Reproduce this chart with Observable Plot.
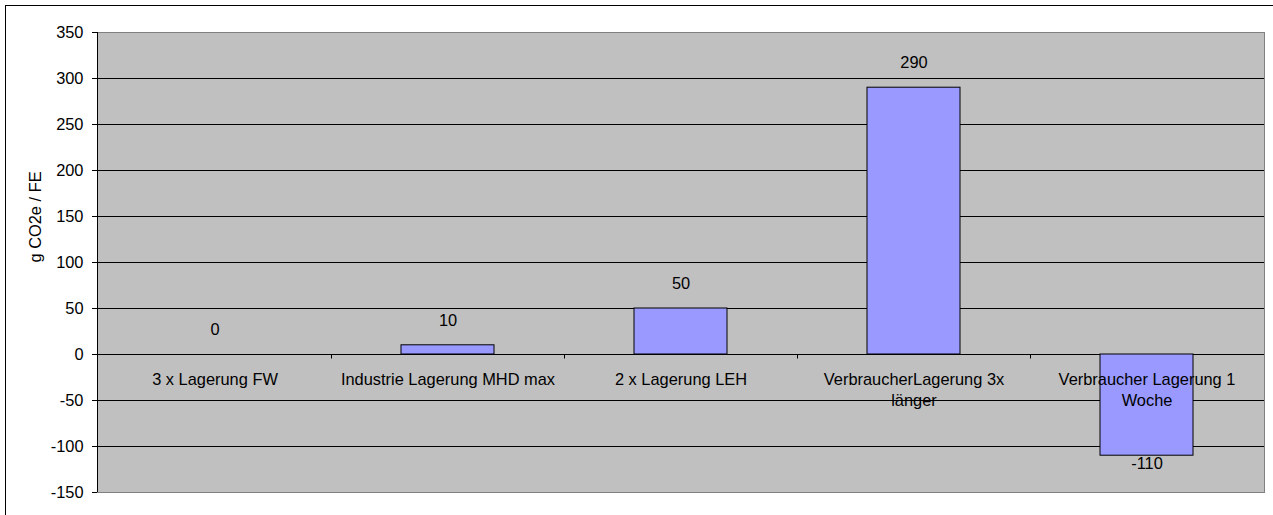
<!DOCTYPE html>
<html><head><meta charset="utf-8">
<script src="https://cdn.jsdelivr.net/npm/d3@7"></script>
<script src="https://cdn.jsdelivr.net/npm/@observablehq/plot@0.6"></script>
<style>
body{margin:0;background:#fff;font-family:"Liberation Sans",Arial,sans-serif;}
#wrap{position:relative;width:1273px;height:515px;overflow:hidden;background:#fff;}
#chart{position:absolute;left:0;top:0;}
#border{position:absolute;left:5px;top:5px;width:1300px;height:540px;border:1px solid #000;pointer-events:none;}
</style></head><body>
<div id="wrap"><div id="chart"></div><div id="border"></div></div>
<script>
const categories = ["3 x Lagerung FW", "Industrie Lagerung MHD max", "2 x Lagerung LEH", "VerbraucherLagerung 3x\nlänger", "Verbraucher Lagerung 1\nWoche"];
const values = [0, 10, 50, 290, -110];
const yTicks = [-150, -100, -50, 0, 50, 100, 150, 200, 250, 300, 350];
const yTitle = "g CO2e / FE";

const data = categories.map((c, i) => ({category: c, value: values[i]}));
const yMin = yTicks[0], yMax = yTicks[yTicks.length - 1];
const PAD_IN = 0.6, PAD_OUT = 0.3;
const FS = 16.4;

const axisExtras = (index, scales, vals, dims) => {
  const x = scales.x, y = scales.y;
  const step = x(categories[1]) - x(categories[0]);
  const g = d3.create("svg:g");
  const y0 = Math.round(y(0)) + 0.5;
  for (let i = 1; i < categories.length; i++) {
    const bx = Math.round(x(categories[i]) - PAD_OUT * step) + 0.5;
    g.append("line").attr("x1", bx).attr("x2", bx).attr("y1", y0).attr("y2", y0 + 4)
      .attr("stroke", "#000");
  }
  const lx = dims.marginLeft + 0.5;
  g.append("line").attr("x1", lx).attr("x2", lx)
    .attr("y1", y(yMax)).attr("y2", y(yMin)).attr("stroke", "#000");
  return g.node();
};

const chart = Plot.plot({
  width: 1273,
  height: 515,
  marginLeft: 97,
  marginRight: 9,
  marginTop: 32,
  marginBottom: 23,
  style: {fontFamily: "'Liberation Sans', Arial, sans-serif", fontSize: FS + "px", color: "#000", background: "transparent"},
  x: {domain: categories, paddingInner: PAD_IN, paddingOuter: PAD_OUT, axis: null},
  y: {domain: [yMin, yMax], axis: null},
  marks: [
    Plot.frame({fill: "#C0C0C0", stroke: null}),
    Plot.ruleY(yTicks.filter(d => d > yMin && d < yMax), {stroke: "#000", strokeWidth: 1}),
    Plot.frame({stroke: "#808080", fill: null}),
    Plot.barY(data, {x: "category", y: "value", fill: "#9999FF", stroke: "#000", strokeWidth: 1}),
    axisExtras,
    Plot.axisY({ticks: yTicks, tickSize: 5, tickPadding: 9, tickFormat: d => String(d), label: null, fontSize: FS, stroke: "#000"}),
    Plot.text(data, {x: "category", y: 0, text: "category", dy: 16, lineAnchor: "top", lineHeight: 1.28, fontSize: FS, fill: "#000"}),
    Plot.text(data.filter(d => d.value >= 0), {x: "category", y: "value", text: d => String(d.value), dy: -25, fontSize: FS, fill: "#000"}),
    Plot.text(data.filter(d => d.value < 0), {x: "category", y: "value", text: d => String(d.value), dy: 8, fontSize: FS, fill: "#000"}),
    Plot.text([yTitle], {frameAnchor: "left", rotate: -90, dx: -62, fontSize: FS, fill: "#000"})
  ]
});
document.getElementById("chart").appendChild(chart);
</script>
</body></html>
